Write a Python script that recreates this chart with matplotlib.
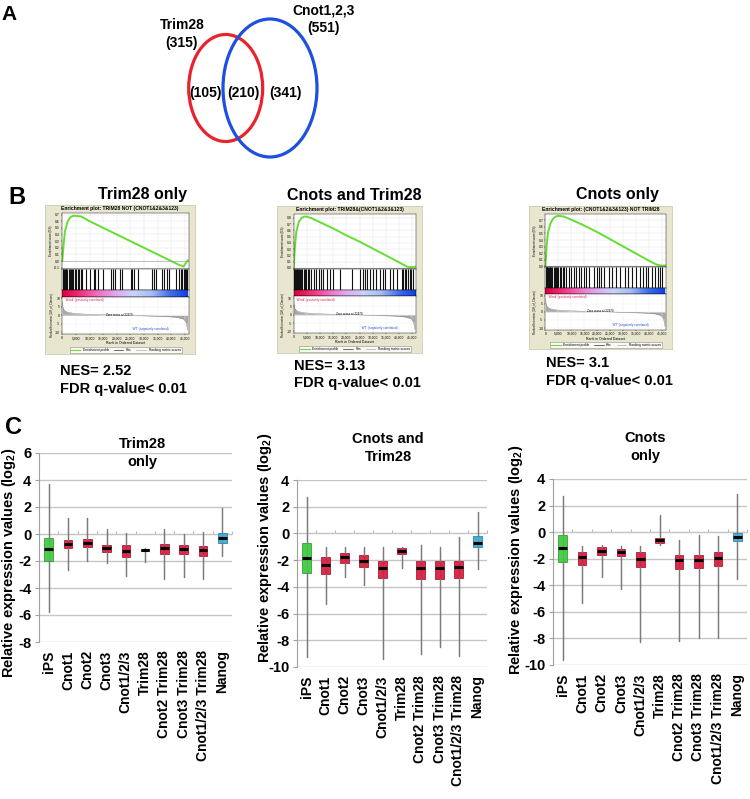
import numpy as np
import matplotlib.pyplot as plt
from matplotlib.patches import Ellipse
from matplotlib.lines import Line2D
from matplotlib.colors import LinearSegmentedColormap

# --- Data ---
# panel A: Venn counts
venn_names = ['Trim28', 'Cnot1,2,3']
venn_totals = [315, 551]
venn_parts = [105, 210, 341]          # Trim28 only, overlap, Cnots only

# panel B: GSEA
gsea_names = ['Trim28 only', 'Cnots and Trim28', 'Cnots only']
gsea_titles = ['Enrichment plot: TRIM28 NOT (CNOT1&2&3&123)',
               'Enrichment plot: TRIM28&(CNOT1&2&3&123)',
               'Enrichment plot: (CNOT1&2&3&123) NOT TRIM28']
nes = [2.52, 3.13, 3.1]
fdr = ['< 0.01', '< 0.01', '< 0.01']

es_rank = [0, 0.5, 1, 2, 3, 4, 5, 7, 10, 15, 20, 25, 30, 35, 40, 43, 44.5, 46]   # x1000
es_trim = [0, 0.25, 0.45, 0.6, 0.66, 0.68, 0.68, 0.67, 0.6, 0.5, 0.4, 0.3, 0.2, 0.1, 0.0, -0.06, -0.08, 0.01]
es_both = [0, 0.35, 0.58, 0.74, 0.8, 0.82, 0.82, 0.79, 0.73, 0.63, 0.52, 0.42, 0.31, 0.2, 0.09, 0.02, 0.01, 0.02]
es_cnot = [0, 0.33, 0.52, 0.66, 0.73, 0.76, 0.77, 0.76, 0.71, 0.62, 0.52, 0.41, 0.3, 0.19, 0.08, 0.02, 0.01, 0.01]

hits_trim = [0.1, 0.3, 0.6, 0.9, 1.2, 1.5, 1.9, 2.3, 2.7, 3.1, 3.5, 4.0, 4.5, 5.0, 5.6, 6.2, 6.8, 7.3,
             8.8, 10.0, 11.5, 12.0, 13.1, 14.8, 18.0, 18.8, 19.4, 21.1, 22.0, 25.2, 25.7, 26.4, 27.8,
             32.9, 33.6, 34.4, 36.6, 37.5, 38.4, 39.3, 41.9, 42.8, 43.5, 44.0, 44.5, 44.9, 45.4, 45.8]
hits_both = [0.1, 0.3, 0.5, 0.8, 1.1, 1.4, 1.7, 2.1, 2.5, 2.9, 3.3, 3.8, 4.3, 4.8, 5.3, 5.9, 6.5,
             7.6, 8.6, 9.5, 10.3, 11.3, 12.6, 13.9, 15.1, 17.6, 22.0, 25.2, 26.2, 27.1, 28.0, 29.0,
             30.2, 31.3, 32.8, 33.8, 34.7, 36.5, 37.6, 39.1, 41.0, 41.6, 42.2, 42.8, 43.5, 44.1, 44.7, 45.4]
hits_cnot = [0.1, 0.3, 0.5, 0.7, 1.0, 1.3, 1.6, 1.9, 2.3, 2.7, 3.1, 3.5, 4.0, 4.5, 5.0, 5.5, 6.1, 6.7,
             7.3, 7.9, 8.9, 10.0, 10.9, 11.8, 12.8, 13.8, 14.7, 15.6, 16.6, 18.5, 19.8, 20.7, 21.5,
             22.4, 24.3, 25.6, 27.1, 28.7, 30.7, 31.9, 33.5, 34.8, 36.4, 37.7, 38.6, 39.6, 41.1,
             42.2, 43.2, 44.1, 44.9]

metric_rank = [0, 0.2, 0.5, 1, 2, 4, 8, 15, 23, 30, 38, 42, 44.5, 45.5, 46]
metric_val = [8, 5, 3.5, 2.6, 1.8, 1.2, 0.7, 0.3, 0, -0.3, -0.7, -1.2, -2.2, -4.5, -9]

# panel C: box plots
categories = ['iPS', 'Cnot1', 'Cnot2', 'Cnot3', 'Cnot1/2/3', 'Trim28',
              'Cnot2 Trim28', 'Cnot3 Trim28', 'Cnot1/2/3 Trim28', 'Nanog']

trim_hi = [3.7, 1.2, 1.2, 0.4, 0.1, -1.0, 0.4, 0.0, 0.15, 1.9]
trim_q3 = [-0.27, -0.42, -0.35, -0.8, -0.85, -1.08, -0.72, -0.85, -0.9, 0.07]
trim_med = [-1.08, -0.72, -0.65, -1.0, -1.25, -1.15, -1.0, -1.13, -1.2, -0.27]
trim_q1 = [-2.0, -1.0, -0.96, -1.35, -1.7, -1.25, -1.5, -1.5, -1.65, -0.64]
trim_lo = [-5.8, -2.7, -2.0, -2.15, -3.1, -2.07, -3.3, -3.2, -3.3, -1.6]

both_hi = [2.75, -1.03, -1.03, -1.03, -1.03, -0.98, -0.86, -1.03, -0.28, 1.63]
both_q3 = [-0.73, -1.73, -1.48, -1.6, -2.05, -1.1, -2.1, -2.05, -2.03, -0.18]
both_med = [-1.86, -2.33, -1.8, -2.03, -2.6, -1.28, -2.6, -2.6, -2.53, -0.73]
both_q1 = [-2.98, -3.03, -2.23, -2.48, -3.35, -1.53, -3.43, -3.4, -3.35, -1.03]
both_lo = [-9.27, -5.27, -3.28, -3.85, -9.42, -2.6, -9.0, -8.5, -9.16, -2.68]

cnot_hi = [2.7, -1.03, -0.95, -1.03, -1.03, 1.3, -0.58, -0.2, -0.28, 2.86]
cnot_q3 = [-0.2, -1.46, -1.13, -1.28, -1.46, -0.45, -1.7, -1.7, -1.5, -0.08]
cnot_med = [-1.2, -1.9, -1.4, -1.53, -2.03, -0.58, -2.09, -2.09, -1.96, -0.33]
cnot_q1 = [-2.21, -2.46, -1.7, -1.83, -2.64, -0.78, -2.79, -2.71, -2.54, -0.7]
cnot_lo = [-9.62, -5.3, -3.4, -4.3, -8.24, -0.95, -8.2, -8.0, -8.0, -3.54]

# --- Setup ---
W, H = 750, 799
plt.rcParams['font.family'] = ['Liberation Sans', 'DejaVu Sans']
plt.rcParams['axes.unicode_minus'] = False
plt.rcParams['mathtext.fontset'] = 'custom'
plt.rcParams['mathtext.rm'] = 'Liberation Sans'
plt.rcParams['mathtext.bf'] = 'Liberation Sans:bold'

fig = plt.figure(figsize=(W / 100, H / 100), dpi=100)


def px_axes(x, y, w, h):
    # axes placed in pixel units from top-left
    return fig.add_axes([x / W, 1 - (y + h) / H, w / W, h / H])


# --- Panel B: GSEA plots ---
gsea_cmap = LinearSegmentedColormap.from_list(
    'gsea', ['#d8003c', '#f0307a', '#f070c0', '#e0a8f0', '#c8d4f8', '#a8bcf4', '#4070e8', '#1040e0'])
tiny = dict(labelsize=2.4, length=1, width=0.3, pad=0.6)


def draw_gsea(box, title, es, hits, es_ticks, es_lim):
    bx, by, bw, bh = box
    bg = px_axes(bx, by, bw, bh)
    bg.set_facecolor('#e9e6cf')
    bg.set_xticks([])
    bg.set_yticks([])
    for s in bg.spines.values():
        s.set_color('#cfcbb0')
        s.set_linewidth(0.6)
    bg.text(0.5, 0.978, title, ha='center', va='center', fontsize=3.6,
            fontweight='bold', transform=bg.transAxes)

    left, right = bx + 0.115 * bw, bx + 0.96 * bw

    def sub(t0, t1):
        return px_axes(left, by + t0 * bh, right - left, (t1 - t0) * bh)

    ax_es = sub(0.055, 0.43)
    ax_es.plot(es_rank, es, color='#66dd33', lw=1.4)
    ax_es.axhline(0, color='#999999', lw=0.4)
    ax_es.set_xlim(0, 46.5)
    ax_es.set_ylim(*es_lim)
    ax_es.set_yticks(es_ticks)
    ax_es.set_yticklabels([f'{t:.1f}' for t in es_ticks])
    ax_es.set_xticks(range(0, 50, 5))
    ax_es.tick_params(labelbottom=False, **tiny)
    ax_es.grid(color='#e2e2e2', lw=0.3)
    ax_es.set_ylabel('Enrichment score (ES)', fontsize=2.2, labelpad=1)
    for s in ax_es.spines.values():
        s.set_linewidth(0.3)

    ax_hit = sub(0.43, 0.57)
    ax_hit.vlines(hits, 0, 1, color='#111111', lw=0.8)
    ax_hit.set_xlim(0, 46.5)
    ax_hit.set_ylim(0, 1)
    ax_hit.set_xticks([])
    ax_hit.set_yticks([])
    for s in ax_hit.spines.values():
        s.set_linewidth(0.3)

    ax_cb = sub(0.57, 0.615)
    ax_cb.imshow(np.linspace(0, 1, 256)[None, :], aspect='auto', cmap=gsea_cmap,
                 extent=[0, 46, 0, 1])
    ax_cb.set_xlim(0, 46.5)
    ax_cb.set_xticks([])
    ax_cb.set_yticks([])
    for s in ax_cb.spines.values():
        s.set_linewidth(0.3)

    ax_m = sub(0.615, 0.865)
    ax_m.fill_between(metric_rank, metric_val, 0, color='#a8a8a8', lw=0)
    ax_m.plot(metric_rank, metric_val, color='#808080', lw=0.3)
    ax_m.set_xlim(0, 46.5)
    ax_m.set_ylim(-11, 11)
    ax_m.set_yticks([10, 5, 0, -5, -10])
    ax_m.set_xticks(range(0, 50, 5))
    ax_m.set_xticklabels([f'{t * 1000:,}' for t in range(0, 50, 5)])
    ax_m.tick_params(**tiny)
    ax_m.grid(color='#ececec', lw=0.3)
    ax_m.set_xlabel('Rank in Ordered Dataset', fontsize=2.5, labelpad=0.8)
    ax_m.set_ylabel('Ranked list metric (Diff_of_Classes)', fontsize=2.0, labelpad=1)
    ax_m.text(0.02, 0.96, "'Weak' (positively correlated)", color='#e0205a',
              fontsize=2.2, va='top', transform=ax_m.transAxes)
    ax_m.text(0.45, 0.52, 'Zero cross at 22979', fontsize=2.2, ha='center',
              va='center', transform=ax_m.transAxes)
    ax_m.text(0.55, 0.1, "'WT' (negatively correlated)", color='#2050d0',
              fontsize=2.2, transform=ax_m.transAxes)
    for s in ax_m.spines.values():
        s.set_linewidth(0.3)
    handles = [Line2D([], [], color='#66dd33', lw=0.8),
               Line2D([], [], color='black', lw=0.4),
               Line2D([], [], color='#999999', lw=0.4)]
    leg = ax_m.legend(handles, ['Enrichment profile', 'Hits', 'Ranking metric scores'],
                      loc='center', bbox_to_anchor=(0.5, -0.43), ncol=3, fontsize=2.3,
                      handlelength=3, borderpad=0.35, columnspacing=1.5,
                      fancybox=False, edgecolor='#777777')
    leg.get_frame().set_linewidth(0.4)


gsea_boxes = [(45, 205, 150, 149), (277, 206, 145, 147), (529, 206, 143, 143)]
draw_gsea(gsea_boxes[0], gsea_titles[0], es_trim, hits_trim,
          [0.7, 0.6, 0.5, 0.4, 0.3, 0.2, 0.1, 0.0, -0.1], (-0.12, 0.72))
draw_gsea(gsea_boxes[1], gsea_titles[1], es_both, hits_both,
          [0.8, 0.7, 0.6, 0.5, 0.4, 0.3, 0.2, 0.1, 0.0], (-0.02, 0.86))
draw_gsea(gsea_boxes[2], gsea_titles[2], es_cnot, hits_cnot,
          [0.7, 0.6, 0.5, 0.4, 0.3, 0.2, 0.1, 0.0], (-0.02, 0.8))

# --- Panel C: box plots ---
face = ['#3ec83e'] + ['#d81a3c'] * 8 + ['#3aaad6']
edge = ['#2c9a2c'] + ['#a8102c'] * 8 + ['#2080a8']


def draw_box(ax, lo, q1, med, q3, hi, ylim):
    pos = np.arange(len(categories))
    stats = [dict(whislo=a, q1=b, med=c, q3=d, whishi=e)
             for a, b, c, d, e in zip(lo, q1, med, q3, hi)]
    ax.vlines(pos, lo, hi, color='#7a7a7a', lw=0.9, zorder=2)
    bp = ax.bxp(stats, positions=pos, widths=0.45, showfliers=False, showcaps=False,
                patch_artist=True, manage_ticks=False, zorder=3,
                boxprops=dict(lw=0.6),
                medianprops=dict(color='black', lw=2.2),
                whiskerprops=dict(color='#7a7a7a', lw=0.9))
    for patch, fc, ec in zip(bp['boxes'], face, edge):
        patch.set_facecolor(fc)
        patch.set_edgecolor(ec)
        patch.set_alpha(0.92)
    ax.set_xlim(-0.5, len(categories) - 0.5)
    ax.set_ylim(*ylim)
    ax.set_yticks(range(ylim[0], ylim[1] + 1, 2))
    ax.set_xticks(pos)
    ax.set_xticklabels(categories, rotation=90, fontsize=10, fontweight='bold')
    for lab in ax.get_yticklabels():
        lab.set_fontweight('bold')
        lab.set_fontsize(10.5)
    ax.tick_params(axis='x', length=0, pad=6)
    ax.tick_params(axis='y', length=3, color='#a0a0a0', pad=2.5)
    ax.yaxis.grid(True, color='#c6c6c6', lw=1)
    ax.set_axisbelow(True)
    for s in ['top', 'right', 'bottom']:
        ax.spines[s].set_visible(False)
    ax.spines['left'].set_color('#a0a0a0')
    # category axis crossing at zero
    sec = ax.secondary_xaxis(0, transform=ax.transData)
    sec.set_xticks(np.arange(-0.5, len(categories), 1))
    sec.tick_params(length=2.5, color='#b8b8b8', labelbottom=False, direction='in')
    sec.spines['bottom'].set_color('#c6c6c6')


ax1 = px_axes(39, 453, 193, 189)
draw_box(ax1, trim_lo, trim_q1, trim_med, trim_q3, trim_hi, (-8, 6))
ax2 = px_axes(297, 480, 190, 187)
draw_box(ax2, both_lo, both_q1, both_med, both_q3, both_hi, (-10, 4))
ax3 = px_axes(553, 479, 194, 186)
draw_box(ax3, cnot_lo, cnot_q1, cnot_med, cnot_q3, cnot_hi, (-10, 4))

# --- Overlay: Venn, labels, annotations (pixel coords) ---
ov = fig.add_axes([0, 0, 1, 1])
ov.set_xlim(0, W)
ov.set_ylim(H, 0)
ov.axis('off')

ov.add_patch(Ellipse((225.7, 88), 74, 107, fill=False, ec='#e8232b', lw=2.3))
ov.add_patch(Ellipse((270, 88), 94, 138, fill=False, ec='#1e4fe0', lw=2.3))

vkw = dict(ha='center', va='center', fontweight='bold')
ov.text(182, 34, f'{venn_names[0]}\n({venn_totals[0]})', fontsize=10, linespacing=1.35, **vkw)
ov.text(324, 19, f'{venn_names[1]}\n({venn_totals[1]})', fontsize=10, linespacing=1.35, **vkw)
for x, n in zip([205, 243, 286], venn_parts):
    ov.text(x, 93, f'({n})', fontsize=10, **vkw)

ov.text(9, 15, 'A', fontsize=15, fontweight='bold', ha='center', va='center')
ov.text(17, 198, 'B', fontsize=17, fontweight='bold', ha='center', va='center')
ov.text(14, 427, 'C', fontsize=17, fontweight='bold', ha='center', va='center')

for x, name in zip([142, 354, 617], gsea_names):
    ov.text(x, 195, name, fontsize=11.5, **vkw)
for (x, y), v, q in zip([(60, 371), (294, 366), (546, 363)], nes, fdr):
    ov.text(x, y, f'NES= {v}', fontsize=10.5, ha='left', va='center', fontweight='bold')
    ov.text(x, y + 17.5, f'FDR q-value{q}', fontsize=10.5, ha='left', va='center',
            fontweight='bold')

ctitles = ['Trim28\nonly', 'Cnots and\nTrim28', 'Cnots\nonly']
for (x, y), t in zip([(142, 453), (388, 448), (645, 447)], ctitles):
    ov.text(x, y, t, fontsize=10.5, fontweight='bold', ha='center', va='center',
            linespacing=1.4)
ylab = r'Relative expression values (log$_\mathbf{2}$)'
for x, y in [(9, 563), (265, 548), (516, 560)]:
    ov.text(x, y, ylab, fontsize=10.5, fontweight='bold', rotation=90,
            ha='center', va='center')

plt.savefig('out.png', dpi=100)
